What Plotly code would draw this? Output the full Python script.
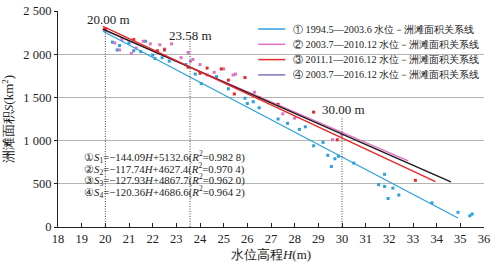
import plotly.graph_objects as go

# ---------------- data ----------------
h1 = [20.0, 20.3, 20.5, 20.6, 21.0, 21.2, 21.5, 21.7, 22.0, 22.1, 22.4, 22.7, 23.4, 23.8, 24.05,
      24.7, 25.2, 25.9, 26.0, 26.25, 26.5, 27.3, 27.7, 28.2, 28.45, 28.8, 29.2, 29.4, 29.55, 29.7,
      29.85, 30.5, 31.55, 31.8, 31.8, 31.95, 32.15, 32.4, 33.8, 34.9, 35.4, 35.5]
s1 = [2270, 2140, 2050, 2100, 2130, 2040, 2030, 2150, 1990, 1950, 1960, 1920, 1880, 1770, 1660,
      1740, 1600, 1490, 1430, 1450, 1380, 1250, 1200, 1130, 1160, 940, 980, 830, 700, 790,
      820, 740, 490, 470, 610, 330, 450, 370, 280, 170, 130, 150]

h2 = [19.95, 20.4, 20.6, 20.7, 21.1, 21.3, 21.6, 21.9, 22.3, 22.5, 22.8, 23.2, 23.5, 23.6, 23.7,
      24.0, 24.3, 24.6, 25.0, 25.4, 25.5, 26.3, 27.5, 28.0, 29.6, 30.0]
s2 = [2290, 2130, 2050, 2170, 2010, 2070, 2150, 2120, 2110, 2060, 2120, 1960, 2020, 1920, 1940,
      1880, 1760, 1790, 1830, 1760, 1770, 1560, 1310, 1260, 1010, 1070]

h3 = [20.0, 21.2, 22.2, 22.5, 23.5, 24.0, 24.3, 24.9, 25.2, 25.45, 25.9, 26.5, 27.3, 28.8, 29.8, 33.1]
s3 = [2290, 2170, 2040, 2050, 1850, 1780, 1840, 1830, 1700, 1540, 1730, 1500, 1420, 1330, 1010, 540]

fits = {
    "1": (-144.09, 5132.6, 19.9, 34.9),
    "2": (-117.74, 4627.4, 19.9, 32.8),
    "3": (-127.93, 4867.7, 19.9, 33.95),
    "4": (-120.36, 4686.6, 19.9, 34.6),
}

legend_labels = [
    "① 1994.5—2003.6 水位－洲滩面积关系线",
    "② 2003.7—2010.12 水位－洲滩面积关系线",
    "③ 2011.1—2016.12 水位－洲滩面积关系线",
    "④ 2003.7—2016.12 水位－洲滩面积关系线",
]
equations = [
    "①<i>S</i><sub>1</sub>=−144.09<i>H</i>+5132.6(<i>R</i><sup>2</sup>=0.982 8)",
    "②<i>S</i><sub>2</sub>=−117.74<i>H</i>+4627.4(<i>R</i><sup>2</sup>=0.970 4)",
    "③<i>S</i><sub>3</sub>=−127.93<i>H</i>+4867.7(<i>R</i><sup>2</sup>=0.962 0)",
    "④<i>S</i><sub>4</sub>=−120.36<i>H</i>+4686.6(<i>R</i><sup>2</sup>=0.964 2)",
]
marks = [(20.00, 2240, "20.00 m"), (23.58, 2180, "23.58 m"), (30.00, 1260, "30.00 m")]

x_ticks = list(range(18, 37))
y_ticks = [0, 500, 1000, 1500, 2000, 2500]
y_tick_text = ["0", "500", "1 000", "1 500", "2 000", "2 500"]

FONT = "Liberation Serif"
c_blue = "#2AA0DC"
c_pink = "#E070C0"
c_red = "#E82828"
c_black = "#1A1A1A"
c_leg4 = "#7878B8"
c_text = "#222222"

W, H = 496, 267
L, R, T, B = 57.5, 12, 11, 40
pw, ph = W - L - R, H - T - B


def px2paper(x, y):
    return (x - L) / pw, 1 - (y - T) / ph


fig = go.Figure()
ms = 3
fig.add_trace(go.Scatter(x=h1, y=s1, mode="markers", marker=dict(color=c_blue, size=ms, symbol="square"), showlegend=False))
fig.add_trace(go.Scatter(x=h2, y=s2, mode="markers", marker=dict(color=c_pink, size=ms, symbol="square"), showlegend=False))
fig.add_trace(go.Scatter(x=h3, y=s3, mode="markers", marker=dict(color=c_red, size=ms, symbol="square"), showlegend=False))

line_style = {"1": (c_blue, 1.2), "2": (c_pink, 1.3), "4": (c_black, 1.4), "3": (c_red, 1.5)}
for k in ["1", "2", "4", "3"]:
    a, b, x0, x1 = fits[k]
    col, w = line_style[k]
    fig.add_trace(go.Scatter(x=[x0, x1], y=[a * x0 + b, a * x1 + b], mode="lines",
                             line=dict(color=col, width=w), showlegend=False))

for hx, top, txt in marks:
    fig.add_trace(go.Scatter(x=[hx, hx], y=[0, top], mode="lines",
                             line=dict(color="#444", width=1, dash="1px,1.5px"), showlegend=False))

annotations = []
ann_pos = {"20.00 m": (108, 20), "23.58 m": (190, 35), "30.00 m": (343, 110)}
for hx, top, txt in marks:
    px, py = ann_pos[txt]
    xp, yp = px2paper(px, py)
    annotations.append(dict(x=xp, y=yp, xref="paper", yref="paper", text=txt, showarrow=False,
                            font=dict(family=FONT, size=13, color=c_text), xanchor="center", yanchor="middle"))

for i, eq in enumerate(equations):
    xp, yp = px2paper(82, 157 + i * 11.5)
    annotations.append(dict(x=xp, y=yp, xref="paper", yref="paper", text=eq, showarrow=False,
                            font=dict(family=FONT, size=10.8, color=c_text), xanchor="left", yanchor="middle"))

shapes = []
leg_cols = [c_blue, c_pink, c_red, c_leg4]
for i, (lab, col) in enumerate(zip(legend_labels, leg_cols)):
    yy = 29 + i * 15.3
    x0p, y0p = px2paper(258, yy)
    x1p, _ = px2paper(285, yy)
    shapes.append(dict(type="line", xref="paper", yref="paper", x0=x0p, x1=x1p, y0=y0p, y1=y0p,
                       line=dict(color=col, width=1.5)))
    xt, _ = px2paper(291, yy)
    annotations.append(dict(x=xt, y=y0p, xref="paper", yref="paper", text=lab, showarrow=False,
                            font=dict(family=FONT, size=10.2, color=c_text), xanchor="left", yanchor="middle"))

fig.update_layout(
    width=W, height=H,
    margin=dict(l=L, r=R, t=T, b=B, pad=0),
    paper_bgcolor="white", plot_bgcolor="white",
    font=dict(family=FONT, size=12, color=c_text),
    showlegend=False,
    annotations=annotations,
    shapes=shapes,
    xaxis=dict(range=[18, 36], tickmode="array", tickvals=x_ticks, ticktext=[str(t) for t in x_ticks],
               showgrid=False, zeroline=False, showline=True, linecolor="#222", linewidth=1.2,
               ticks="inside", ticklen=4, tickcolor="#222", automargin=False, ticklabeloverflow="allow",
               title=dict(text="水位高程<i>H</i>(m)", font=dict(family=FONT, size=13), standoff=4),
               tickfont=dict(family=FONT, size=12.5)),
    yaxis=dict(range=[0, 2500.5], tickmode="array", tickvals=y_ticks, ticktext=y_tick_text,
               showgrid=True, gridcolor="#B4B4B4", gridwidth=1, zeroline=False,
               showline=True, linecolor="#222", linewidth=1.2, ticks="outside", ticklen=3, tickcolor="#222",
               automargin=False, ticklabeloverflow="allow",
               title=dict(text="洲滩面积<i>S</i>(km<sup>2</sup>)", font=dict(family=FONT, size=13), standoff=6),
               tickfont=dict(family=FONT, size=12.5)),
)

# remove the default page margin so the figure sits at the window's top-left corner
fig.write_html("out.html", config={"displayModeBar": False},
               post_script="document.body.style.margin='0';")
